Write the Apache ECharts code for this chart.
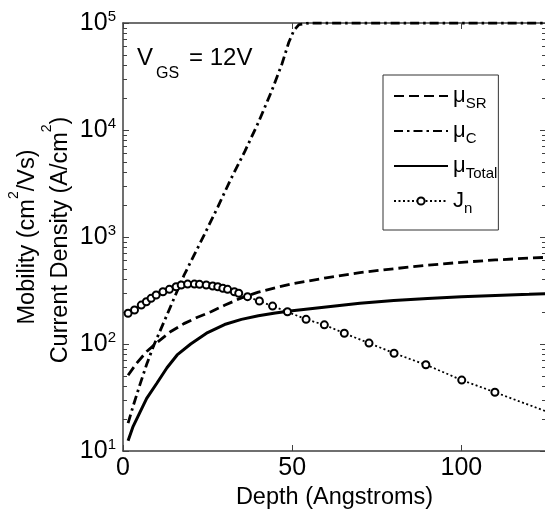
<!DOCTYPE html>
<html>
<head>
<meta charset="utf-8">
<title>Mobility and current density vs depth</title>
<script src="https://cdn.jsdelivr.net/npm/echarts@6/dist/echarts.min.js"></script>
<style>
  html, body { margin: 0; padding: 0; background: #fff; }
  #main { width: 545px; height: 510px; }
</style>
</head>
<body>
<div id="main"></div>
<script>
// values (depth in Angstroms)
const srDepth = [1.5, 4, 7, 10, 14, 18, 22, 26, 30, 35, 40, 45, 50, 60, 70, 80, 90, 100, 110, 120, 125];
const srMob = [51, 66, 85, 103, 130, 155, 178, 200, 230, 270, 305, 335, 365, 415, 465, 505, 545, 580, 610, 635, 645];

const cDepth = [1.5, 3, 5, 7, 9, 12, 15, 18, 21, 24, 28, 32, 36, 40, 44, 47, 49, 50.5, 52, 55, 70, 90, 110, 125];
const cMob = [18.2, 26.3, 41.7, 64.6, 95.5, 158, 263, 437, 676, 1047, 1905, 3548, 6310, 11750, 23440, 41690, 66070, 85110, 96600, 100000, 100000, 100000, 100000, 100000];

const tDepth = [1.5, 3, 5, 7, 10, 13, 16, 20, 25, 30, 35, 40, 45, 50, 60, 70, 80, 90, 100, 110, 120, 125];
const tMob = [12.5, 17, 23, 31, 43, 60, 79, 100, 128, 152, 170, 184, 195, 205, 222, 240, 255, 266, 276, 284, 291, 295];

const jDepth = [1.5, 3.4, 5.4, 6.9, 8.3, 9.8, 11.8, 13.7, 15.7, 17.2, 19.1, 21.1, 22.6, 24.6, 26.5, 28, 29.5, 30.9, 32.9, 34.2, 36.8, 40.3, 44.2, 48.6, 54.1, 59.5, 65.4, 72.7, 80.1, 89.5, 100.1, 109.9, 125];
const jCur = [194, 208, 231, 248, 267, 287, 308, 324, 343, 356, 363, 363, 361, 356, 348, 343, 332, 324, 308, 298, 277, 252, 226, 200, 170, 151, 126, 102, 82, 64, 46, 35.4, 23.5];

const xTicks = [0, 50, 100];
// log positions of the minor ticks 2..9 in each decade (exponent units)
const minorExp = [];
const majorExp = [1, 2, 3, 4, 5];
[1, 2, 3, 4].forEach(function (e) {
  for (let k = 2; k <= 9; k++) minorExp.push(e + Math.log10(k));
});

const FONT = '"Liberation Sans", Arial, sans-serif';
const AXIS = '#404040';

function pairs(xs, ys) {
  return xs.map(function (x, i) { return [x, ys[i]]; });
}

const jData = pairs(jDepth, jCur);
// the last point is only the line running out of the frame
jData[jData.length - 1] = { value: jData[jData.length - 1], symbol: 'none' };

const legendNames = {
  'μSR': '{m|μ}{s|SR}',
  'μC': '{m|μ}{s|C}',
  'μTotal': '{m|μ}{s|Total}',
  'Jn': '{m|J}{s|n}'
};

// hidden linear axis in exponent units, only used to place tick marks
function tickAxis(pos, values, len) {
  return {
    type: 'value', min: 1, max: 5, position: pos,
    axisLine: { show: false },
    axisTick: { show: true, inside: true, length: len, customValues: values, lineStyle: { color: AXIS } },
    axisLabel: { show: false },
    splitLine: { show: false }
  };
}

let myChart = echarts.init(document.getElementById('main'));

myChart.setOption({
  animation: false,
  backgroundColor: '#fff',
  textStyle: { fontFamily: FONT, color: '#000' },
  grid: { left: 123, top: 23, width: 423, height: 428, containLabel: false, outerBoundsMode: 'none' },
  legend: {
    orient: 'vertical',
    left: 383,
    top: 75,
    padding: [10, 1, 14, 10],
    itemWidth: 54,
    itemHeight: 9,
    itemGap: 9,
    backgroundColor: '#fff',
    borderColor: '#333',
    borderWidth: 1,
    borderRadius: 0,
    data: ['μSR', 'μC', 'μTotal', 'Jn'],
    formatter: function (name) { return legendNames[name]; },
    textStyle: {
      color: '#000',
      rich: {
        m: { fontSize: 22, fontFamily: FONT, color: '#000', lineHeight: 30 },
        s: { fontSize: 15, fontFamily: FONT, color: '#000', lineHeight: 12, verticalAlign: 'bottom' }
      }
    }
  },
  xAxis: [{
    type: 'value',
    min: 0,
    max: 125,
    interval: 50,
    name: 'Depth (Angstroms)',
    nameLocation: 'middle',
    nameGap: 31,
    nameTextStyle: { fontSize: 23.5, fontFamily: FONT, color: '#000' },
    axisLine: { show: true, lineStyle: { color: AXIS, width: 1.5 } },
    axisTick: { show: true, inside: true, length: 6, lineStyle: { color: AXIS } },
    axisLabel: {
      fontSize: 25, fontFamily: FONT, color: '#000', margin: 5,
      formatter: function (v) { return xTicks.indexOf(v) >= 0 ? String(v) : ''; }
    },
    splitLine: { show: false }
  }, {
    type: 'value',
    position: 'top',
    min: 0,
    max: 125,
    interval: 50,
    axisLine: { show: true, lineStyle: { color: AXIS, width: 1.5 } },
    axisTick: { show: true, inside: true, length: 6, lineStyle: { color: AXIS } },
    axisLabel: { show: false },
    splitLine: { show: false }
  }],
  yAxis: [{
    type: 'log',
    logBase: 10,
    min: 10,
    max: 100000,
    position: 'left',
    axisLine: { show: true, lineStyle: { color: AXIS, width: 1.5 } },
    axisTick: { show: true, inside: true, length: 6, lineStyle: { color: AXIS } },
    axisLabel: {
      margin: 7,
      formatter: function (v) { return '{b|10}{s|' + Math.round(Math.log10(v)) + '}'; },
      rich: {
        b: { fontSize: 25, fontFamily: FONT, color: '#000', lineHeight: 28 },
        s: { fontSize: 15, fontFamily: FONT, color: '#000', lineHeight: 14, verticalAlign: 'top' }
      }
    },
    splitLine: { show: false }
  },
  tickAxis('left', minorExp, 4),
  tickAxis('right', minorExp, 4),
  Object.assign(tickAxis('right', majorExp, 6), {
    axisLine: { show: true, lineStyle: { color: AXIS, width: 1.5 } }
  })],
  graphic: [
    { type: 'text', x: 137, y: 58, style: { text: 'V', fontSize: 24, fontFamily: FONT, fill: '#000', align: 'left', verticalAlign: 'middle' } },
    { type: 'text', x: 156, y: 74, style: { text: 'GS', fontSize: 16, fontFamily: FONT, fill: '#000', align: 'left', verticalAlign: 'middle' } },
    { type: 'text', x: 189, y: 58, style: { text: '= 12V', fontSize: 24, fontFamily: FONT, fill: '#000', align: 'left', verticalAlign: 'middle' } },
    {
      type: 'text', x: 28, y: 237, rotation: Math.PI / 2,
      style: {
        text: 'Mobility (cm{p|2}/Vs)', fontSize: 23.5, fontFamily: FONT, fill: '#000',
        align: 'center', verticalAlign: 'middle', lineHeight: 42,
        rich: { p: { fontSize: 14, fontFamily: FONT, fill: '#000', lineHeight: 14, verticalAlign: 'top' } }
      }
    },
    {
      type: 'text', x: 61, y: 240, rotation: Math.PI / 2,
      style: {
        text: 'Current Density (A/cm{p|2})', fontSize: 23.5, fontFamily: FONT, fill: '#000',
        align: 'center', verticalAlign: 'middle', lineHeight: 42,
        rich: { p: { fontSize: 14, fontFamily: FONT, fill: '#000', lineHeight: 14, verticalAlign: 'top' } }
      }
    }
  ],
  series: [{
    name: 'μSR',
    type: 'line',
    symbol: 'none',
    data: pairs(srDepth, srMob),
    lineStyle: { color: '#000', width: 2.8, type: [10, 5] },
    itemStyle: { color: '#000', opacity: 0 },
    z: 2
  }, {
    name: 'μC',
    type: 'line',
    symbol: 'none',
    data: pairs(cDepth, cMob),
    lineStyle: { color: '#000', width: 2.8, type: [9, 4, 2.5, 4] },
    itemStyle: { color: '#000', opacity: 0 },
    z: 2
  }, {
    name: 'μTotal',
    type: 'line',
    symbol: 'none',
    data: pairs(tDepth, tMob),
    lineStyle: { color: '#000', width: 3 },
    itemStyle: { color: '#000', opacity: 0 },
    z: 2
  }, {
    name: 'Jn',
    type: 'line',
    symbol: 'circle',
    symbolSize: 7,
    data: jData,
    lineStyle: { color: '#000', width: 1.8, type: [2, 2.5] },
    itemStyle: { color: '#fff', borderColor: '#000', borderWidth: 2 },
    z: 3
  }]
});
</script>
</body>
</html>
